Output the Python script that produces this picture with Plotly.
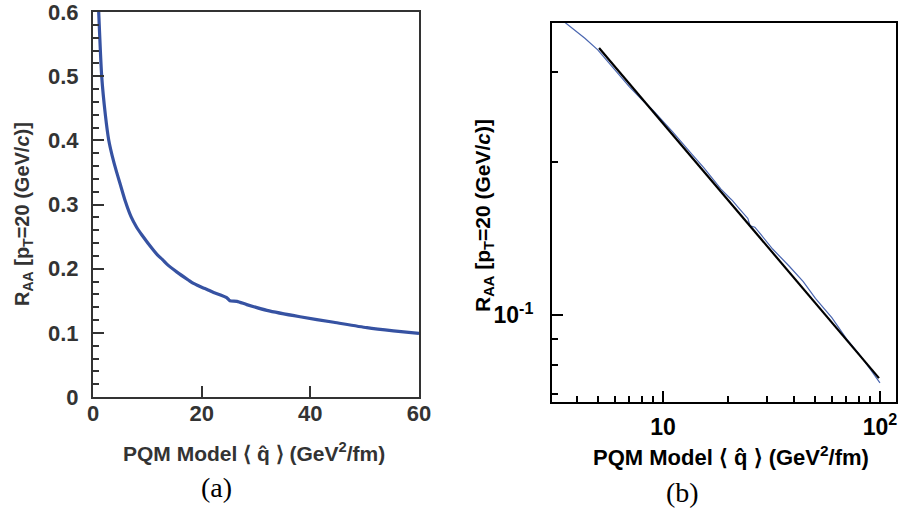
import plotly.graph_objects as go

# PQM model: nuclear modification factor at pT = 20 GeV/c vs. transport coefficient
qhat = [1.05, 1.6, 2.27, 2.9, 3.5, 4.36, 5.0, 5.95, 7.0, 8.0, 9.0, 11.1, 11.9,
        12.8, 13.6, 15.4, 17.6, 18.5, 20.3, 20.9, 22.2, 24.6, 25.2, 26.5, 28.3,
        32.0, 38.1, 44.3, 50.4, 55.3, 60.0, 70.0, 80.0, 90.0, 100.0]
raa = [0.600, 0.500, 0.440, 0.400, 0.377, 0.350, 0.332, 0.305, 0.281, 0.265,
       0.2525, 0.229, 0.221, 0.214, 0.207, 0.195, 0.182, 0.177, 0.170, 0.168,
       0.163, 0.155, 0.150, 0.149, 0.1440, 0.1350, 0.1250, 0.1165, 0.1080,
       0.1030, 0.0990, 0.0900, 0.0840, 0.0785, 0.0737]

# power-law fit R_AA ~ qhat^-0.5 (end points)
fit_q = [5.07, 99.0]
fit_raa = [0.335, 0.0753]

# tick labels
a_xticks = [0, 20, 40, 60]
a_yticks = [0, 0.1, 0.2, 0.3, 0.4, 0.5, 0.6]
b_xticks = [10, 100]
b_xticktext = ["10", "10<sup>2</sup>"]
b_xminor = [4, 5, 6, 7, 8, 9, 20, 30, 40, 50, 60, 70, 80, 90]
b_yticks = [0.1]
b_yticktext = ["10<sup>-1</sup>"]
b_yminor = [0.07, 0.08, 0.09, 0.2, 0.3]

W, H = 901, 510
GREY = "#333333"
BLUE_A = "#3652a2"
BLUE_B = "#4a66b0"
SANS = "Liberation Sans"


def px(x):
    return x / W


def py(y):
    return 1 - y / H


qa = [q for q in qhat if q <= 60]
ra = raa[:len(qa)]

fig = go.Figure()
fig.add_trace(go.Scatter(x=qa, y=ra, mode="lines", xaxis="x", yaxis="y",
                         line=dict(color=BLUE_A, width=3.2, shape="spline", smoothing=0.6),
                         showlegend=False))
fig.add_trace(go.Scatter(x=qhat, y=raa, mode="lines", xaxis="x2", yaxis="y2",
                         line=dict(color=BLUE_B, width=1.2), showlegend=False))
fig.add_trace(go.Scatter(x=fit_q, y=fit_raa, mode="lines", xaxis="x2", yaxis="y2",
                         line=dict(color="black", width=2.2), showlegend=False))

frame_a = dict(showline=True, linecolor=GREY, linewidth=2, mirror=True,
               showgrid=False, zeroline=False, ticks="inside", tickcolor=GREY,
               tickwidth=2, ticklen=11, automargin=False, ticklabeloverflow="allow",
               tickfont=dict(family=SANS, size=22, color=GREY, weight="bold"))
frame_b = dict(showline=True, linecolor="black", linewidth=2, mirror=True,
               showgrid=False, zeroline=False, ticks="inside", tickcolor="black",
               tickwidth=1.6, ticklen=11, type="log", automargin=False,
               ticklabeloverflow="allow",
               tickfont=dict(family=SANS, size=23, color="black", weight="bold"))

fig.update_layout(
    width=W, height=H, margin=dict(l=0, r=0, t=0, b=0, autoexpand=False),
    paper_bgcolor="white", plot_bgcolor="white",
    xaxis=dict(frame_a, domain=[px(93), px(419)], range=[0, 60],
               tickmode="array", tickvals=a_xticks, anchor="y",
               ticklabelstandoff=-4),
    yaxis=dict(frame_a, domain=[py(397), py(12)], range=[0, 0.6],
               tickmode="array", tickvals=a_yticks, anchor="x",
               tickformat="~g", ticklabelstandoff=8,
               minor=dict(dtick=0.02, tick0=0, ticks="inside", ticklen=6,
                          tickwidth=2, tickcolor=GREY)),
    xaxis2=dict(frame_b, domain=[px(552), px(896)],
                range=[0.488, 2.074], tickmode="array", tickvals=b_xticks,
                ticktext=b_xticktext, anchor="y2", ticklabelstandoff=3,
                minor=dict(tickvals=b_xminor, ticks="inside", ticklen=6,
                           tickwidth=1.6, tickcolor="black")),
    yaxis2=dict(frame_b, domain=[py(402), py(23)],
                range=[-1.170, -0.426], tickmode="array", tickvals=b_yticks,
                ticktext=b_yticktext, anchor="x2", ticklabelstandoff=12,
                minor=dict(tickvals=b_yminor, ticks="inside", ticklen=6,
                           tickwidth=1.6, tickcolor="black")),
)

xtitle = "PQM Model \u27e8 q\u0302 \u27e9 (GeV<sup>2</sup>/fm)"
ytitle = "R<sub>AA</sub> [p<sub>T</sub>=20 (GeV/<i>c</i>)]"

ann = [
    dict(text=xtitle, x=px(254), y=py(452), font=dict(family=SANS, size=21, color=GREY, weight="bold")),
    dict(text=ytitle, x=px(23), y=py(214), textangle=-90, font=dict(family=SANS, size=20, color=GREY, weight="bold")),
    dict(text="(a)", x=px(216), y=py(487), font=dict(family="Liberation Serif", size=28, color="black")),
    dict(text=xtitle, x=px(731), y=py(456), font=dict(family=SANS, size=22, color="black", weight="bold")),
    dict(text=ytitle, x=px(484), y=py(216), textangle=-90, font=dict(family=SANS, size=21, color="black", weight="bold")),
    dict(text="(b)", x=px(682), y=py(492), font=dict(family="Liberation Serif", size=28, color="black")),
]
for a in ann:
    a.update(xref="paper", yref="paper", showarrow=False, xanchor="center", yanchor="middle")
fig.update_layout(annotations=ann)

fig.write_html("out.html")
